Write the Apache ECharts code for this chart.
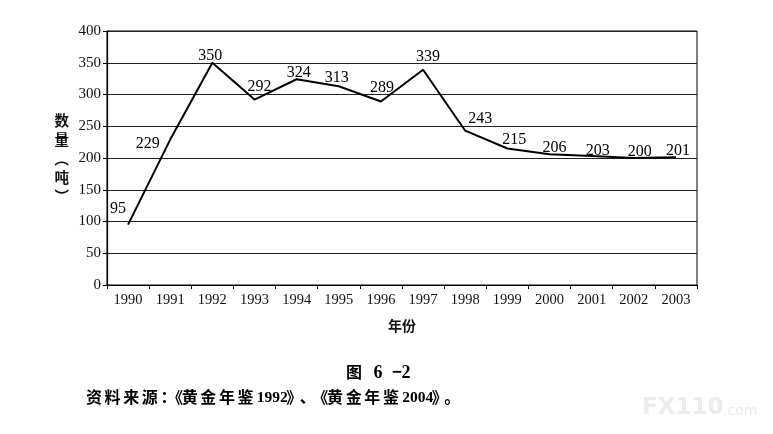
<!DOCTYPE html>
<html>
<head>
<meta charset="utf-8">
<script src="https://cdn.jsdelivr.net/npm/echarts@6/dist/echarts.min.js"></script>
<style>
  html, body { margin: 0; padding: 0; background: #fff; }
  #chart { width: 773px; height: 434px; }
</style>
</head>
<body>
<div id="chart"></div>
<script>
// data
var years = ['1990', '1991', '1992', '1993', '1994', '1995', '1996',
             '1997', '1998', '1999', '2000', '2001', '2002', '2003'];
var amounts = [95, 229, 350, 292, 324, 313, 289, 339, 243, 215, 206, 203, 200, 201];
var yTicks = { min: 0, max: 400, interval: 50 };

// label nudges so numbers sit where the printed ones do
var labelPos = ['top', 'left', 'top', 'top', 'top', 'top', 'top',
                'top', 'top', 'top', 'top', 'top', 'top', 'top'];
var labelShift = [[-10, -2], [-5, 4], [-2, 7], [5, 1], [2, 7], [-2, 5], [1, 0],
                  [5, 1], [15, 2], [7, 5], [5, 7], [6, 8], [6, 7], [2, 7]];

var figTitle = '图 6 －2';
var sourceNote = '资料来源：《黄金年鉴 1992》、《黄金年鉴 2004》。';

var serif = '"Liberation Serif", "DejaVu Serif", serif';
var cjk = '"Noto Sans CJK SC", sans-serif';

// book-style caption: han chars on a fixed pitch, half-width punctuation, serif digits
var punct = { '：': 'colon', '《': 'lq', '》': 'rq', '、': 'dun', '。': 'stop', '－': 'dash' };
function bookText(str) {
    var out = '';
    var i = 0;
    while (i < str.length) {
        var ch = str[i];
        if (/[0-9]/.test(ch)) {
            var j = i;
            while (j < str.length && /[0-9]/.test(str[j])) j++;
            out += '{d|' + str.slice(i, j) + '}';
            i = j;
            continue;
        }
        if (ch === ' ') out += '{s| }';
        else if (punct[ch]) out += '{' + punct[ch] + '|' + ch + '}';
        else out += '{h|' + ch + '}';
        i++;
    }
    return out;
}
function bookRich(size, digitSize, gap) {
    var base = { fontFamily: cjk, fontWeight: 'bold', fontSize: size, color: '#111' };
    function seg(extra) { return Object.assign({}, base, extra); }
    return {
        h: seg({ width: size + 2.6 }),
        s: seg({ width: gap }),
        d: seg({ fontFamily: serif, fontSize: digitSize, padding: [2, 0, 0, 0] }),
        colon: seg({ width: 9, align: 'left' }),
        lq: seg({ width: 11, align: 'center' }),
        rq: seg({ width: 13, align: 'left' }),
        dun: seg({ width: 14, align: 'left' }),
        stop: seg({ width: 12, align: 'left' }),
        dash: seg({ fontFamily: serif, fontSize: digitSize, width: 10, align: 'center' })
    };
}

var chartDom = document.getElementById('chart');
var myChart = echarts.init(chartDom, null, { renderer: 'canvas' });

var points = amounts.map(function (v, i) {
    return {
        value: v,
        label: { position: labelPos[i], offset: labelShift[i] }
    };
});

var option = {
    backgroundColor: '#fff',
    animation: false,
    grid: {
        left: 107, right: 76, top: 31, bottom: 149,
        show: true, borderColor: '#000', borderWidth: 1
    },
    xAxis: {
        type: 'category',
        data: years,
        boundaryGap: true,
        name: '年份',
        nameLocation: 'middle',
        nameGap: 34,
        nameTextStyle: { fontFamily: cjk, fontSize: 14, fontWeight: 'bold', color: '#111' },
        axisLine: { lineStyle: { color: '#000', width: 1.2 } },
        axisTick: { show: true, alignWithLabel: false, length: 4, lineStyle: { color: '#000' } },
        axisLabel: { fontFamily: serif, fontSize: 14.5, color: '#111', margin: 8, interval: 0 },
        splitLine: { show: false }
    },
    yAxis: {
        type: 'value',
        min: yTicks.min,
        max: yTicks.max,
        interval: yTicks.interval,
        name: '数\n量\n︵\n吨\n︶',
        nameLocation: 'middle',
        nameRotate: 0,
        nameGap: 38,
        nameTextStyle: { fontFamily: cjk, fontSize: 14.5, fontWeight: 'bold', color: '#111', lineHeight: 19 },
        axisLine: { show: true, lineStyle: { color: '#000', width: 1.2 } },
        axisTick: { show: true, length: 4, lineStyle: { color: '#000' } },
        axisLabel: { fontFamily: serif, fontSize: 15, color: '#111', margin: 6 },
        splitLine: { show: true, lineStyle: { color: '#222', width: 1 } }
    },
    series: [{
        type: 'line',
        data: points,
        showSymbol: true,
        symbol: 'circle',
        symbolSize: 1,
        itemStyle: { color: 'rgba(0,0,0,0)' },
        lineStyle: { color: '#000', width: 2 },
        label: {
            show: true,
            distance: 5,
            fontFamily: serif,
            fontSize: 16,
            color: '#000'
        }
    }],
    graphic: [
        {
            type: 'text', left: 346, top: 363,
            style: { text: bookText(figTitle), rich: bookRich(16, 18, 9) }
        },
        {
            type: 'text', left: 86, top: 389,
            style: { text: bookText(sourceNote), rich: bookRich(16, 15.5, 2) }
        },
        {
            type: 'text', left: 642, top: 397,
            style: { text: 'FX110', font: 'bold 23px "DejaVu Sans", sans-serif', fill: '#ececec' }
        },
        {
            type: 'text', left: 723, top: 404,
            style: { text: '.com', font: '14px "DejaVu Sans", sans-serif', fill: '#ececec' }
        }
    ]
};

myChart.setOption(option);

window.addEventListener('resize', function () {
    myChart.resize();
});
</script>
</body>
</html>
